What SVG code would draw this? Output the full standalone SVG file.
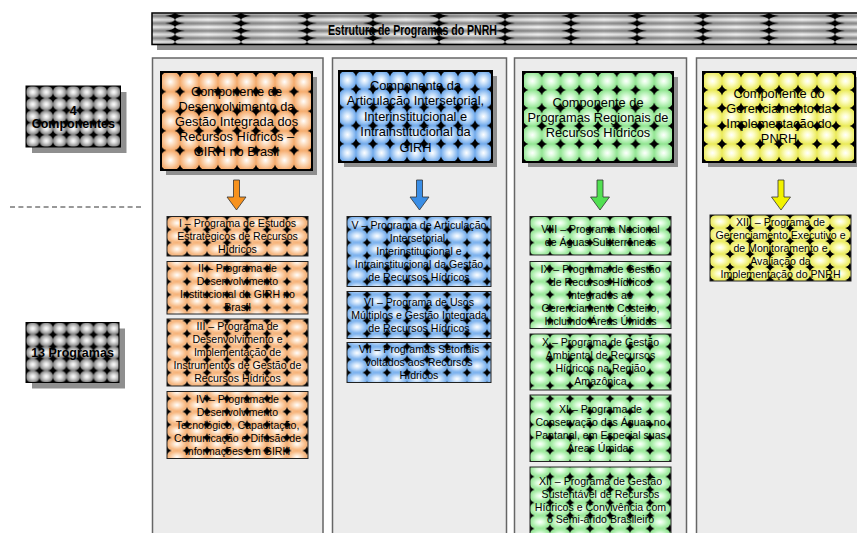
<svg xmlns="http://www.w3.org/2000/svg" width="857" height="533" viewBox="0 0 857 533">
<style>
.t{font-family:"Liberation Sans",Arial,sans-serif;fill:#000;text-anchor:middle}
.comp{font-size:12.8px}
.prog{font-size:10.6px}
.lbl{font-size:12.5px;font-weight:bold}
.ttl{font-size:15.5px;font-weight:bold}
.panel{fill:#ececec;stroke:#666;stroke-width:1.5}
.shadow{fill:#8f8f8f}
.pbox{stroke:#222;stroke-width:1}
.cbox{stroke:#000;stroke-width:2}
.arr{stroke:#333;stroke-width:0.8}
</style>
<defs>
<path id="st" d="M0,-5.5 Q1.2,-1.2 5.5,0 Q1.2,1.2 0,5.5 Q-1.2,1.2 -5.5,0 Q-1.2,-1.2 0,-5.5Z" fill="#000"/>
<path id="sts" d="M0,-4.6 Q1,-1 4.9,0 Q1,1 0,4.6 Q-1,1 -4.9,0 Q-1,-1 0,-4.6Z" fill="#000"/>
<path id="stw" d="M-10,0 Q-1.3,-0.9 0,-3.6 Q1.3,-0.9 10,0 Q1.3,0.9 0,3.6 Q-1.3,0.9 -10,0Z" fill="#000"/>
<radialGradient id="gO"><stop offset="0" stop-color="#ffffff"/><stop offset="0.35" stop-color="#fde2c8"/><stop offset="1" stop-color="#f5ad70"/></radialGradient>
<radialGradient id="gB"><stop offset="0" stop-color="#ffffff"/><stop offset="0.35" stop-color="#d2e6fb"/><stop offset="1" stop-color="#74acec"/></radialGradient>
<radialGradient id="gGr"><stop offset="0" stop-color="#ffffff"/><stop offset="0.35" stop-color="#dcfcdc"/><stop offset="1" stop-color="#94e694"/></radialGradient>
<radialGradient id="gY"><stop offset="0" stop-color="#ffffff"/><stop offset="0.35" stop-color="#fdfdc8"/><stop offset="1" stop-color="#ebeb5c"/></radialGradient>
<radialGradient id="gK"><stop offset="0" stop-color="#ffffff"/><stop offset="0.35" stop-color="#dedede"/><stop offset="1" stop-color="#808080"/></radialGradient>
<linearGradient id="gT" x1="0" y1="0" x2="0" y2="1"><stop offset="0" stop-color="#858585"/><stop offset="0.5" stop-color="#f8f8f8"/><stop offset="1" stop-color="#858585"/></linearGradient>
<linearGradient id="gTh" x1="0" y1="0" x2="1" y2="0"><stop offset="0" stop-color="#000" stop-opacity="0.12"/><stop offset="0.5" stop-color="#000" stop-opacity="0"/><stop offset="1" stop-color="#000" stop-opacity="0.12"/></linearGradient>

<pattern id="pT" width="66" height="7.4" patternUnits="userSpaceOnUse" x="175" y="16">
<rect width="66" height="7.4" fill="url(#gT)"/><rect width="66" height="7.4" fill="url(#gTh)"/>
<use href="#stw" x="0" y="0"/><use href="#stw" x="66" y="0"/><use href="#stw" x="0" y="7.4"/><use href="#stw" x="66" y="7.4"/>
</pattern>

<pattern id="cO" width="19" height="19.6" patternUnits="userSpaceOnUse" x="161" y="72">
<rect width="19" height="19.6" fill="#f5ad70"/><ellipse cx="9.5" cy="9.8" rx="9.5" ry="9.8" fill="url(#gO)"/>
<use href="#st"/><use href="#st" x="19"/><use href="#st" y="19.6"/><use href="#st" x="19" y="19.6"/>
</pattern>
<pattern id="cB" width="17" height="18.2" patternUnits="userSpaceOnUse" x="339" y="71">
<rect width="17" height="18.2" fill="#74acec"/><ellipse cx="8.5" cy="9.1" rx="8.5" ry="9.1" fill="url(#gB)"/>
<use href="#st"/><use href="#st" x="17"/><use href="#st" y="18.2"/><use href="#st" x="17" y="18.2"/>
</pattern>
<pattern id="cG" width="18.75" height="18" patternUnits="userSpaceOnUse" x="523" y="72">
<rect width="18.75" height="18" fill="#94e694"/><ellipse cx="9.4" cy="9" rx="9.4" ry="9" fill="url(#gGr)"/>
<use href="#st"/><use href="#st" x="18.75"/><use href="#st" y="18"/><use href="#st" x="18.75" y="18"/>
</pattern>
<pattern id="cY" width="19" height="18" patternUnits="userSpaceOnUse" x="703" y="72">
<rect width="19" height="18" fill="#ebeb5c"/><ellipse cx="9.5" cy="9" rx="9.5" ry="9" fill="url(#gY)"/>
<use href="#st"/><use href="#st" x="19"/><use href="#st" y="18"/><use href="#st" x="19" y="18"/>
</pattern>

<pattern id="pO" width="20" height="13" patternUnits="userSpaceOnUse" x="167" y="216.5">
<rect width="20" height="13" fill="#f7c293"/><ellipse cx="10" cy="6.5" rx="10" ry="6.5" fill="url(#gO)"/>
<use href="#sts"/><use href="#sts" x="20"/><use href="#sts" y="13"/><use href="#sts" x="20" y="13"/>
</pattern>
<pattern id="pB" width="20" height="13" patternUnits="userSpaceOnUse" x="347" y="216.5">
<rect width="20" height="13" fill="#88bcf0"/><ellipse cx="10" cy="6.5" rx="10" ry="6.5" fill="url(#gB)"/>
<use href="#sts"/><use href="#sts" x="20"/><use href="#sts" y="13"/><use href="#sts" x="20" y="13"/>
</pattern>
<pattern id="pG" width="20" height="13" patternUnits="userSpaceOnUse" x="530" y="216.5">
<rect width="20" height="13" fill="#a6eea6"/><ellipse cx="10" cy="6.5" rx="10" ry="6.5" fill="url(#gGr)"/>
<use href="#sts"/><use href="#sts" x="20"/><use href="#sts" y="13"/><use href="#sts" x="20" y="13"/>
</pattern>
<pattern id="pY" width="20" height="13" patternUnits="userSpaceOnUse" x="710" y="215">
<rect width="20" height="13" fill="#eeee70"/><ellipse cx="10" cy="6.5" rx="10" ry="6.5" fill="url(#gY)"/>
<use href="#sts"/><use href="#sts" x="20"/><use href="#sts" y="13"/><use href="#sts" x="20" y="13"/>
</pattern>
<pattern id="pK" width="13.5" height="12.2" patternUnits="userSpaceOnUse" x="26" y="86">
<rect width="13.5" height="12.2" fill="#808080"/><ellipse cx="6.75" cy="6.1" rx="6.75" ry="6.1" fill="url(#gK)"/>
<use href="#sts"/><use href="#sts" x="13.5"/><use href="#sts" y="12.2"/><use href="#sts" x="13.5" y="12.2"/>
</pattern>
<pattern id="pK2" width="13.5" height="12" patternUnits="userSpaceOnUse" x="26" y="322.5">
<rect width="13.5" height="12" fill="#808080"/><ellipse cx="6.75" cy="6" rx="6.75" ry="6" fill="url(#gK)"/>
<use href="#sts"/><use href="#sts" x="13.5"/><use href="#sts" y="12"/><use href="#sts" x="13.5" y="12"/>
</pattern>
</defs>

<rect width="857" height="533" fill="#fff"/>

<!-- column panels -->
<g id="panels">
<rect class="panel" x="152.5" y="58" width="170.5" height="490"/>
<rect class="panel" x="332.5" y="58" width="174" height="490"/>
<rect class="panel" x="514.5" y="58" width="172" height="490"/>
<rect class="panel" x="696.5" y="58" width="175" height="490"/>
</g>

<!-- title -->
<g id="title">
<rect class="shadow" x="157" y="18" width="710" height="32"/>
<rect x="152" y="13" width="715" height="31.5" fill="url(#pT)" stroke="#000" stroke-width="1.5"/>
<text class="t ttl" x="412.5" y="34.5" textLength="169" lengthAdjust="spacingAndGlyphs">Estrutura de Programas do PNRH</text>
</g>

<!-- left labels -->
<g id="lbl-componentes">
<rect class="shadow" x="32" y="92" width="94.5" height="61"/>
<rect x="26" y="86" width="94.5" height="61" fill="url(#pK)" stroke="#000" stroke-width="1"/>
<text class="t lbl" x="73.3" y="114.5">4</text>
<text class="t lbl" x="73.3" y="127.8">Componentes</text>
</g>
<g id="divider">
<line x1="10" y1="207" x2="143" y2="207" stroke="#333" stroke-width="1" stroke-dasharray="5,3.4"/>
</g>
<g id="lbl-programas">
<rect class="shadow" x="32" y="328.5" width="93" height="60"/>
<rect x="26" y="322.5" width="93" height="60" fill="url(#pK2)" stroke="#000" stroke-width="1"/>
<text class="t lbl" x="72.5" y="357">13 Programas</text>
</g>

<!-- component boxes -->
<g id="comp1">
<rect class="shadow" x="166" y="77" width="151" height="98"/>
<rect class="cbox" x="161" y="72" width="151" height="98" fill="url(#cO)"/>
<text class="t comp" x="236.5" y="96">Componente de</text>
<text class="t comp" x="236.5" y="111">Desenvolvimento da</text>
<text class="t comp" x="236.5" y="126">Gestão Integrada dos</text>
<text class="t comp" x="236.5" y="141">Recursos Hídricos –</text>
<text class="t comp" x="236.5" y="156">GIRH no Brasil</text>
</g>
<g id="comp2">
<rect class="shadow" x="344" y="76" width="153" height="91"/>
<rect class="cbox" x="339" y="71" width="153" height="91" fill="url(#cB)"/>
<text class="t comp" x="415.5" y="89.5">Componente da</text>
<text class="t comp" x="415.5" y="105">Articulação Intersetorial,</text>
<text class="t comp" x="415.5" y="120.5">Interinstitucional e</text>
<text class="t comp" x="415.5" y="136">Intrainstitucional da</text>
<text class="t comp" x="415.5" y="151.5">GIRH</text>
</g>
<g id="comp3">
<rect class="shadow" x="528" y="77" width="150" height="90"/>
<rect class="cbox" x="523" y="72" width="150" height="90" fill="url(#cG)"/>
<text class="t comp" x="598" y="107">Componente de</text>
<text class="t comp" x="598" y="122">Programas Regionais de</text>
<text class="t comp" x="598" y="136.5">Recursos Hídricos</text>
</g>
<g id="comp4">
<rect class="shadow" x="708" y="77" width="152" height="90"/>
<rect class="cbox" x="703" y="72" width="152" height="90" fill="url(#cY)"/>
<text class="t comp" x="779" y="98">Componente do</text>
<text class="t comp" x="779" y="113">Gerenciamento da</text>
<text class="t comp" x="779" y="128">Implementação do</text>
<text class="t comp" x="779" y="143">PNRH</text>
</g>

<!-- connectors -->
<g id="connectors">
<path class="arr" fill="#f7921e" d="M233.5,180 H239.5 V197 H246 L236.5,210 L227,197 H233.5 Z"/>
<path class="arr" fill="#3a8ee6" d="M416.5,180 H422.5 V197 H429 L419.5,210 L410,197 H416.5 Z"/>
<path class="arr" fill="#52e052" d="M597,180 H603 V197 H609.5 L600,210 L590.5,197 H597 Z"/>
<path class="arr" fill="#f2f200" d="M778,180 H784 V197 H790.5 L781,210 L771.5,197 H778 Z"/>
</g>

<!-- programs column 1 -->
<g id="prog1">
<rect class="pbox" x="167" y="216.5" width="141" height="39.5" fill="url(#pO)"/>
<text class="t prog" x="237.5" y="227">I – Programa de Estudos</text>
<text class="t prog" x="237.5" y="240">Estratégicos de Recursos</text>
<text class="t prog" x="237.5" y="253">Hídricos</text>
</g>
<g id="prog2">
<rect class="pbox" x="167" y="261.5" width="141" height="52.5" fill="url(#pO)"/>
<text class="t prog" x="237.5" y="272">II – Programa de</text>
<text class="t prog" x="237.5" y="285">Desenvolvimento</text>
<text class="t prog" x="237.5" y="298">Institucional da GIRH no</text>
<text class="t prog" x="237.5" y="311">Brasil</text>
</g>
<g id="prog3">
<rect class="pbox" x="167" y="319" width="141" height="67" fill="url(#pO)"/>
<text class="t prog" x="237.5" y="330.3">III – Programa de</text>
<text class="t prog" x="237.5" y="343.3">Desenvolvimento e</text>
<text class="t prog" x="237.5" y="356.3">Implementação de</text>
<text class="t prog" x="237.5" y="369.3">Instrumentos de Gestão de</text>
<text class="t prog" x="237.5" y="382.3">Recursos Hídricos</text>
</g>
<g id="prog4">
<rect class="pbox" x="167" y="391.5" width="141" height="67" fill="url(#pO)"/>
<text class="t prog" x="237.5" y="402.8">IV – Programa de</text>
<text class="t prog" x="237.5" y="415.8">Desenvolvimento</text>
<text class="t prog" x="237.5" y="428.8">Tecnológico, Capacitação,</text>
<text class="t prog" x="237.5" y="441.8">Comunicação e Difusão de</text>
<text class="t prog" x="237.5" y="454.8">Informações em GIRH</text>
</g>

<!-- programs column 2 -->
<g id="prog5">
<rect class="pbox" x="347" y="216.5" width="144" height="70" fill="url(#pB)"/>
<text class="t prog" x="419" y="229.3">V – Programa de Articulação</text>
<text class="t prog" x="419" y="242.3">Intersetorial,</text>
<text class="t prog" x="419" y="255.3">Interinstitucional e</text>
<text class="t prog" x="419" y="268.3">Intrainstitucional da Gestão</text>
<text class="t prog" x="419" y="281.3">de Recursos Hídricos</text>
</g>
<g id="prog6">
<rect class="pbox" x="347" y="291.5" width="144" height="47" fill="url(#pB)"/>
<text class="t prog" x="419" y="305.8">VI – Programa de Usos</text>
<text class="t prog" x="419" y="318.8">Múltiplos e Gestão Integrada</text>
<text class="t prog" x="419" y="331.8">de Recursos Hídricos</text>
</g>
<g id="prog7">
<rect class="pbox" x="347" y="342.5" width="144" height="40" fill="url(#pB)"/>
<text class="t prog" x="419" y="353.3">VII – Programas Setoriais</text>
<text class="t prog" x="419" y="366.3">voltados aos Recursos</text>
<text class="t prog" x="419" y="379.3">Hídricos</text>
</g>

<!-- programs column 3 -->
<g id="prog8">
<rect class="pbox" x="530" y="216.5" width="141" height="38.5" fill="url(#pG)"/>
<text class="t prog" x="600.5" y="233">VIII – Programa Nacional</text>
<text class="t prog" x="600.5" y="246">de Águas Subterrâneas</text>
</g>
<g id="prog9">
<rect class="pbox" x="530" y="261.5" width="141" height="67" fill="url(#pG)"/>
<text class="t prog" x="600.5" y="272.8">IX – Programa de Gestão</text>
<text class="t prog" x="600.5" y="285.8">de Recursos Hídricos</text>
<text class="t prog" x="600.5" y="298.8">Integrados ao</text>
<text class="t prog" x="600.5" y="311.8">Gerenciamento Costeiro,</text>
<text class="t prog" x="600.5" y="324.8">Incluindo Áreas Úmidas</text>
</g>
<g id="prog10">
<rect class="pbox" x="530" y="334" width="141" height="56" fill="url(#pG)"/>
<text class="t prog" x="600.5" y="346.3">X – Programa de Gestão</text>
<text class="t prog" x="600.5" y="359.3">Ambiental de Recursos</text>
<text class="t prog" x="600.5" y="372.3">Hídricos na Região</text>
<text class="t prog" x="600.5" y="385.3">Amazônica</text>
</g>
<g id="prog11">
<rect class="pbox" x="530" y="395" width="141" height="66.5" fill="url(#pG)"/>
<text class="t prog" x="600.5" y="412.5">XI – Programa de</text>
<text class="t prog" x="600.5" y="425.5">Conservação das Águas no</text>
<text class="t prog" x="600.5" y="438.5">Pantanal, em Especial suas</text>
<text class="t prog" x="600.5" y="451.5">Áreas Úmidas</text>
</g>
<g id="prog12">
<rect class="pbox" x="530" y="467" width="141" height="80" fill="url(#pG)"/>
<text class="t prog" x="600.5" y="484.5">XII – Programa de Gestão</text>
<text class="t prog" x="600.5" y="497.5">Sustentável de Recursos</text>
<text class="t prog" x="600.5" y="510.5">Hídricos e Convivência com</text>
<text class="t prog" x="600.5" y="523.3">o Semi-árido Brasileiro</text>
</g>

<!-- programs column 4 -->
<g id="prog13">
<rect class="pbox" x="710" y="215" width="141" height="66" fill="url(#pY)"/>
<text class="t prog" x="780.5" y="225.8">XIII – Programa de</text>
<text class="t prog" x="780.5" y="238.8">Gerenciamento Executivo e</text>
<text class="t prog" x="780.5" y="251.8">de Monitoramento e</text>
<text class="t prog" x="780.5" y="264.8">Avaliação da</text>
<text class="t prog" x="780.5" y="277.8">Implementação do PNRH</text>
</g>
</svg>
